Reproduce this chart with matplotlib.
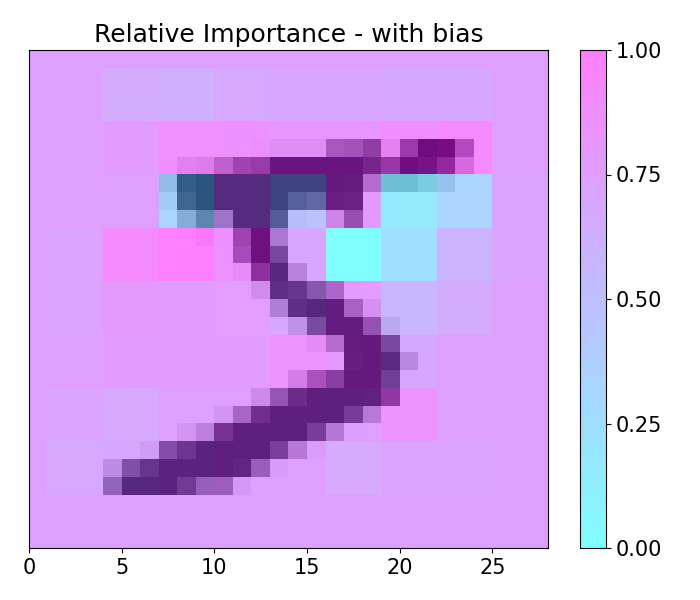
import matplotlib
matplotlib.use('Agg')
import matplotlib.pyplot as plt
import numpy as np

# digit pixels, 28 x 28
digit = np.zeros((28, 28))
digit_rows = {
    5: (12, [3, 18, 18, 18, 126, 136, 175, 26, 166, 255, 247, 127]),
    6: (8, [30, 36, 94, 154, 170, 253, 253, 253, 253, 253, 225, 172, 253, 242, 195, 64]),
    7: (7, [49, 238, 253, 253, 253, 253, 253, 253, 253, 253, 251, 93, 82, 82, 56, 39]),
    8: (7, [18, 219, 253, 253, 253, 253, 253, 198, 182, 247, 241]),
    9: (8, [80, 156, 107, 253, 253, 205, 11, 0, 43, 154]),
    10: (9, [14, 1, 154, 253, 90]),
    11: (11, [139, 253, 190, 2]),
    12: (11, [11, 190, 253, 70]),
    13: (12, [35, 241, 225, 160, 108, 1]),
    14: (13, [81, 240, 253, 253, 119, 25]),
    15: (14, [45, 186, 253, 253, 150, 27]),
    16: (15, [16, 93, 252, 253, 187]),
    17: (17, [249, 253, 249, 64]),
    18: (14, [46, 130, 183, 253, 253, 207, 2]),
    19: (12, [39, 148, 229, 253, 253, 253, 250, 182]),
    20: (10, [24, 114, 221, 253, 253, 253, 253, 201, 78]),
    21: (8, [23, 66, 213, 253, 253, 253, 253, 198, 81, 2]),
    22: (6, [18, 171, 219, 253, 253, 253, 253, 195, 80, 9]),
    23: (4, [55, 172, 226, 253, 253, 253, 253, 244, 133, 11]),
    24: (4, [136, 253, 253, 253, 212, 135, 132, 16]),
}
for r, (start, vals) in digit_rows.items():
    digit[r, start:start + len(vals)] = vals

# importance per block (block sizes 1, 3 x 8, 1+2)
block_sizes = [1, 3, 3, 3, 3, 3, 3, 3, 3, 3]
importance = [
    [.74, .74, .74, .74, .74, .74, .74, .74, .74, .74],
    [.74, .75, .66, .62, .68, .70, .70, .69, .69, .74],
    [.74, .76, .77, .88, .87, .83, .83, .89, .92, .74],
    [.74, .75, .76, .33, .67, .47, .80, .17, .33, .72],
    [.74, .72, .92, 1.0, .87, .70, .00, .25, .60, .71],
    [.74, .72, .80, .77, .78, .69, .78, .57, .66, .74],
    [.74, .76, .77, .77, .77, .85, .80, .69, .74, .74],
    [.74, .71, .68, .75, .76, .75, .75, .85, .74, .74],
    [.74, .68, .69, .72, .74, .76, .67, .72, .73, .74],
    [.74, .74, .74, .74, .74, .74, .74, .74, .74, .74],
]
heat = np.repeat(np.repeat(np.array(importance), block_sizes, axis=0), block_sizes, axis=1)

fig = plt.figure(figsize=(7, 6), dpi=100)
ax = fig.add_axes([29 / 700, 52 / 600, 519 / 700, 498 / 600])
ax.imshow(digit, cmap='gray_r', vmin=0, vmax=255, extent=[0, 28, 28, 0],
          aspect='auto', interpolation='nearest')
im = ax.imshow(heat, cmap='cool', vmin=0, vmax=1, alpha=0.5, extent=[0, 28, 28, 0],
               aspect='auto', interpolation='nearest')
ax.set_xticks([0, 5, 10, 15, 20, 25])
ax.set_yticks([])
ax.tick_params(labelsize=15)
ax.set_title('Relative Importance - with bias', fontsize=18)

cax = fig.add_axes([580 / 700, 52 / 600, 26 / 700, 498 / 600])
cb = fig.colorbar(im, cax=cax)
cb.set_ticks([0, 0.25, 0.5, 0.75, 1])
cb.set_ticklabels(['0.00', '0.25', '0.50', '0.75', '1.00'])
cb.ax.tick_params(labelsize=15)

plt.savefig('out.png')
